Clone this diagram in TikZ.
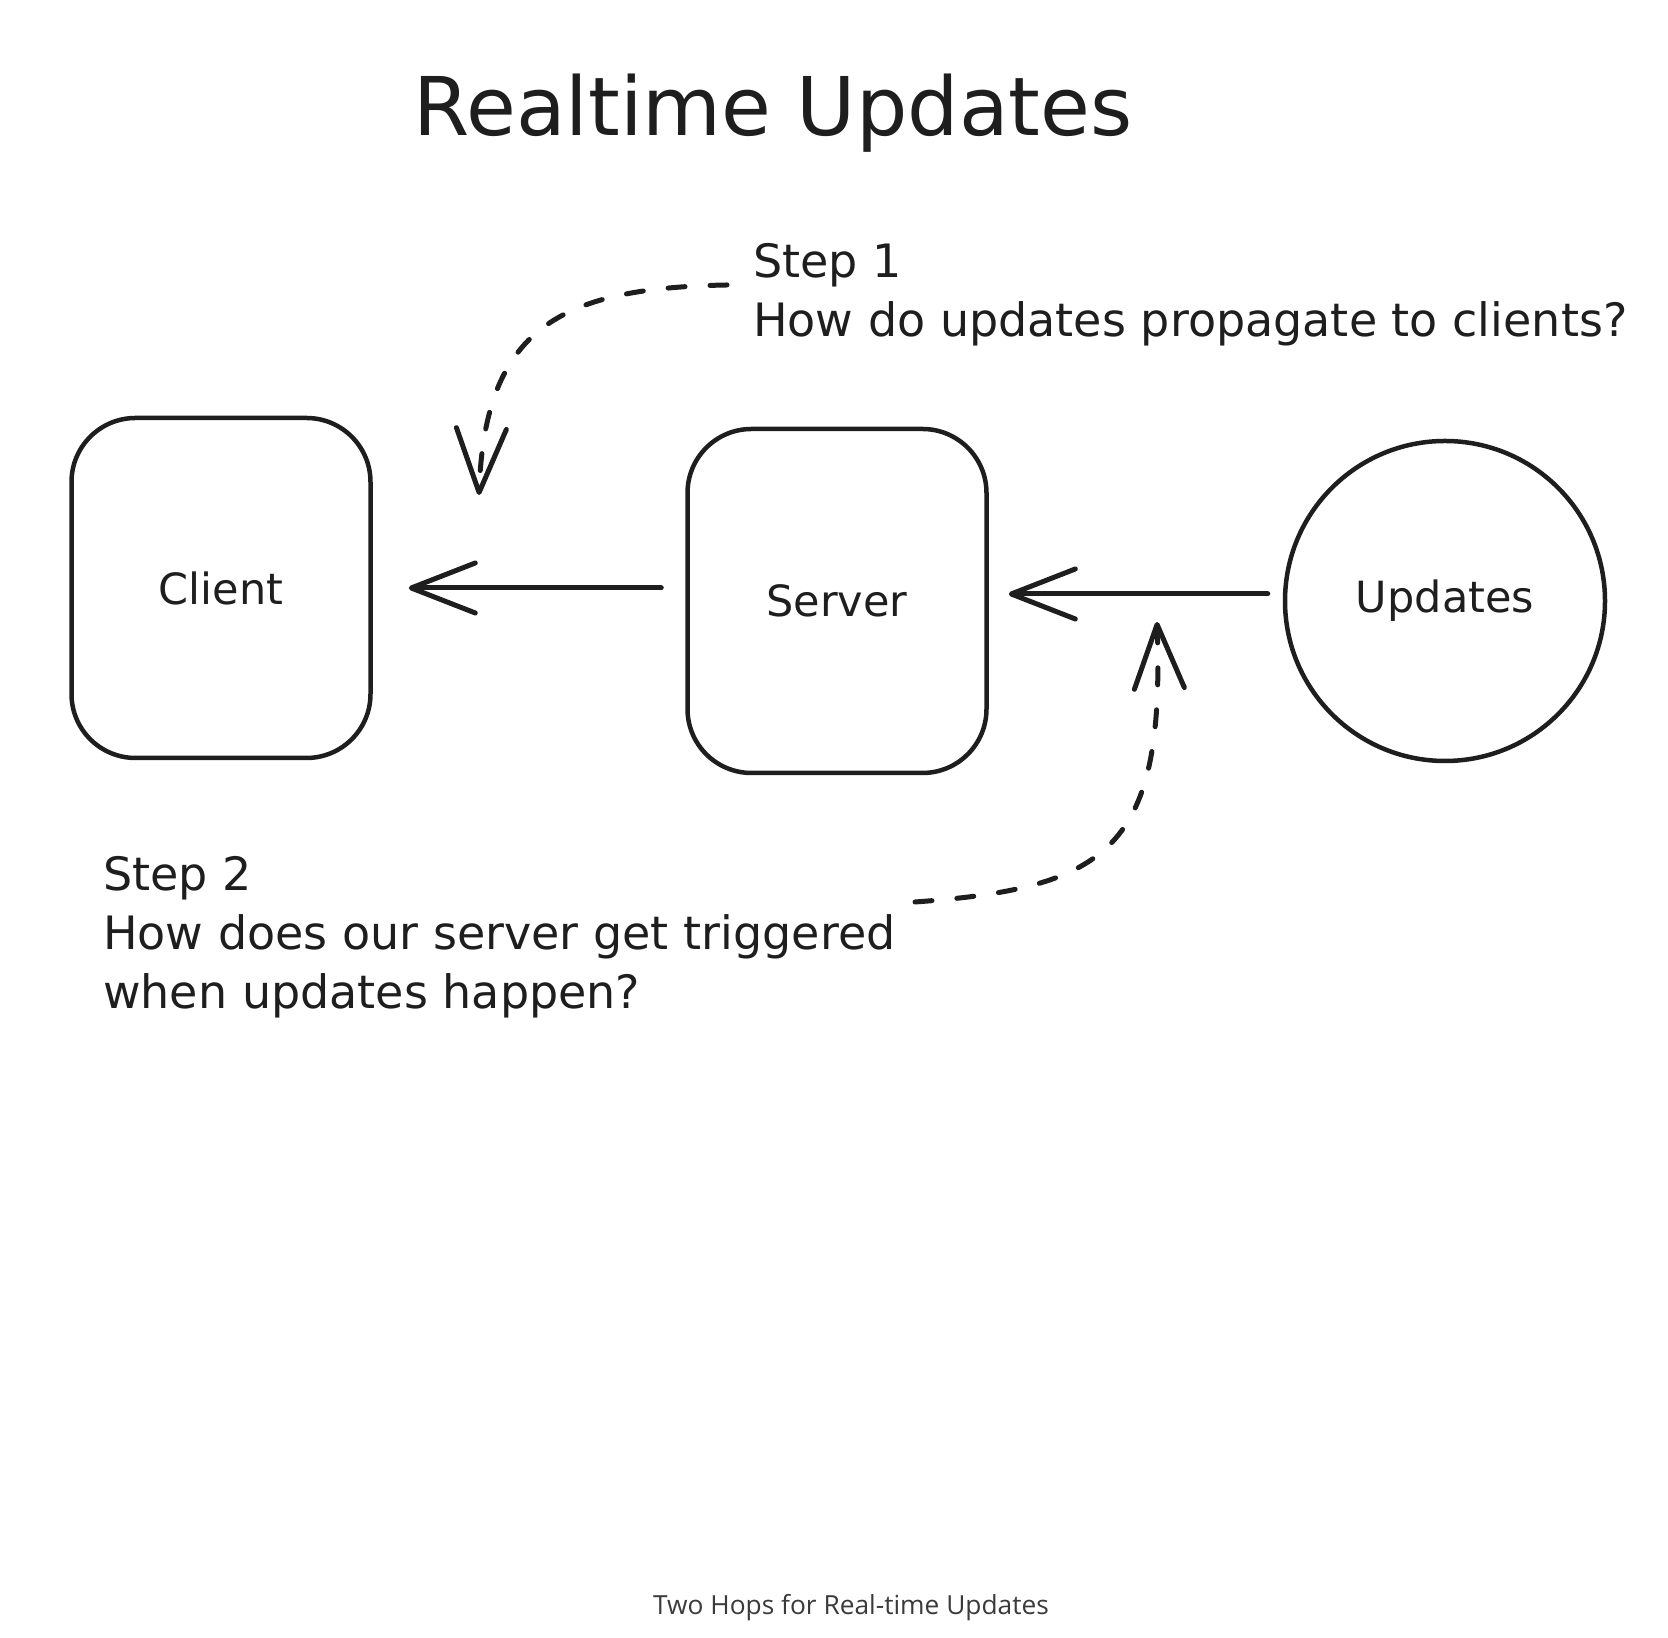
\documentclass[tikz,border=0pt]{standalone}
\usepackage{fontspec}
\setmainfont{DejaVu Sans}
\newfontfamily\captionfont{Open Sans}
\usetikzlibrary{arrows.meta}
\definecolor{ink}{HTML}{1E1E1E}
\definecolor{capgray}{HTML}{3A3A3A}

\begin{document}
\begin{tikzpicture}[x=1pt, y=1pt,
    box/.style={draw=ink, line width=4.5pt, rounded corners=64pt, minimum width=299pt, minimum height=340pt, text=ink, font=\fontsize{43}{50}\selectfont},
    blob/.style={draw=ink, circle, line width=4.5pt, minimum size=320pt, text=ink, font=\fontsize{43}{50}\selectfont},
    flow/.style={draw=ink, line width=5pt, line cap=round, -{Straight Barb[round, length=64pt, width=50pt]}},
    hint/.style={flow, dash pattern=on 17pt off 25pt},
    note/.style={align=left, inner sep=0pt, text=ink, font=\fontsize{46}{59}\selectfont}
]
\useasboundingbox (0,0) rectangle (1668,1638);

    % Title
\node[anchor=base, text=ink, font=\fontsize{81}{95}\selectfont] (title) at (773,1502) {Realtime Updates};

% Boxes
\node[box] (client) at (221,1050) {Client};
\node[box, minimum height=344pt] (server) at (837,1037) {Server};
\node[blob] (updates) at (1445,1037) {Updates};

% Hops
\draw[flow, shorten <=24pt, shorten >=36pt] (server.west |- client) -- (client.east);
\draw[flow, shorten <=15pt, shorten >=20pt] ([yshift=7pt]updates.west) -- ([yshift=7pt]server.east);

% Questions
\node[note, anchor=north west] (step1) at (753,1395) {Step 1\\How do updates propagate to clients?};
\node[note, anchor=north west] (step2) at (103,782) {Step 2\\How does our server get triggered\\when updates happen?};

    % Dashed pointers
\coordinate (q1) at (727,1353);
\coordinate (a1) at (479,1143);
\coordinate (q2) at (915,736);
\coordinate (a2) at (1157,1016);
\draw[hint] (q1) .. controls (560,1350) and (485,1310) .. (a1);
\draw[hint] (q2) .. controls (1110,750) and (1165,790) .. (a2);

% Caption
\node[text=capgray, font=\captionfont\fontsize{26.3}{31}\selectfont] (caption) at (851,30) {Two Hops for Real-time Updates};

\end{tikzpicture}
\end{document}
